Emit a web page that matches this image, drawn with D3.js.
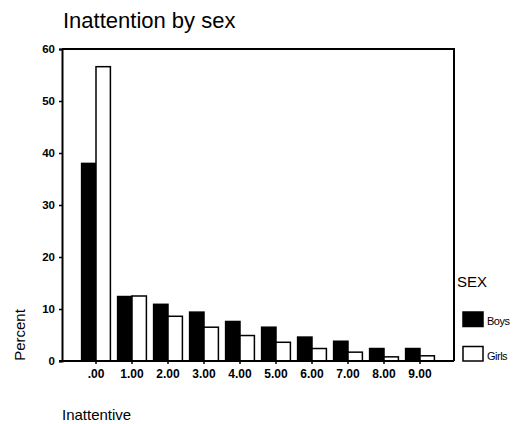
<!DOCTYPE html>
<html>
<head>
<meta charset="utf-8">
<script src="https://cdn.jsdelivr.net/npm/d3@7"></script>
<style>
  body { margin: 0; background: #fff; }
  text { font-family: "Liberation Sans", Arial, sans-serif; fill: #000; }
</style>
</head>
<body>
<script>
// data
var categories = [".00", "1.00", "2.00", "3.00", "4.00", "5.00", "6.00", "7.00", "8.00", "9.00"];
var boys = [38.0, 12.4, 10.9, 9.4, 7.6, 6.5, 4.6, 3.8, 2.4, 2.4];
var girls = [56.6, 12.5, 8.6, 6.5, 4.9, 3.6, 2.4, 1.7, 0.8, 1.0];
var seriesNames = ["Boys", "Girls"];
var yTicks = [0, 10, 20, 30, 40, 50, 60];

const width = 520;
const height = 424;
const plotLeft = 62, plotRight = 454, plotTop = 49, plotBottom = 361;

var svg = d3.select("body")
    .append("svg")
    .attr("width", width)
    .attr("height", height);

// scales
var x = d3.scaleBand()
    .domain(categories)
    .range([plotLeft + 16, plotRight - 16])
    .paddingInner(0.2)
    .paddingOuter(0.1);

var xSub = d3.scaleBand()
    .domain(seriesNames)
    .range([0, x.bandwidth()]);

var y = d3.scaleLinear()
    .domain([0, 60])
    .range([plotBottom, plotTop]);

var fills = { "Boys": "#000", "Girls": "#fff" };

// title
svg.append("text")
    .attr("x", 63)
    .attr("y", 28)
    .style("font-size", "22px")
    .text("Inattention by sex");

// bars
var rows = categories.map(function(c, i) {
    return { cat: c, values: [{ name: "Boys", v: boys[i] }, { name: "Girls", v: girls[i] }] };
});

var groups = svg.selectAll("g.cat")
    .data(rows)
    .enter()
    .append("g")
    .attr("class", "cat")
    .attr("transform", function(d) { return "translate(" + x(d.cat) + ",0)"; });

groups.selectAll("rect")
    .data(function(d) { return d.values; })
    .enter()
    .append("rect")
    .attr("x", function(d) { return xSub(d.name); })
    .attr("width", xSub.bandwidth())
    .attr("y", function(d) { return y(d.v); })
    .attr("height", function(d) { return y(0) - y(d.v); })
    .style("fill", function(d) { return fills[d.name]; })
    .style("stroke", "#000")
    .style("stroke-width", 1.5);

// y axis
var yAxis = svg.append("g")
    .attr("transform", "translate(" + plotLeft + ",0)")
    .call(d3.axisLeft(y).tickValues(yTicks).tickSize(3).tickPadding(4));
yAxis.select(".domain").attr("stroke-width", 2);
yAxis.selectAll("line").attr("stroke-width", 1.5);
yAxis.selectAll("text")
    .style("font-size", "11.5px")
    .style("font-weight", "bold");

// x axis
var xAxis = svg.append("g")
    .attr("transform", "translate(0," + plotBottom + ")")
    .call(d3.axisBottom(x).tickSize(3).tickPadding(5));
xAxis.select(".domain")
    .attr("d", "M" + (plotLeft - 3) + ",0H" + plotRight)
    .attr("stroke-width", 2);
xAxis.selectAll("line").attr("stroke-width", 1.5);
xAxis.selectAll("text")
    .style("font-size", "12px")
    .style("font-weight", "bold");

// frame: top and right
svg.append("path")
    .attr("d", "M" + plotLeft + "," + plotTop + "H" + plotRight + "V" + plotBottom)
    .style("fill", "none")
    .style("stroke", "#000")
    .style("stroke-width", 2);

// axis titles
svg.append("text")
    .attr("transform", "translate(25,335) rotate(-90)")
    .attr("text-anchor", "middle")
    .style("font-size", "15px")
    .text("Percent");

svg.append("text")
    .attr("x", 62)
    .attr("y", 420)
    .style("font-size", "15px")
    .text("Inattentive");

// legend
svg.append("text")
    .attr("x", 457)
    .attr("y", 287)
    .style("font-size", "15px")
    .text("SEX");

var legend = svg.selectAll("g.legend")
    .data(seriesNames)
    .enter()
    .append("g")
    .attr("class", "legend")
    .attr("transform", function(d, i) { return "translate(463," + (312 + i * 34.5) + ")"; });

legend.append("rect")
    .attr("width", 20)
    .attr("height", 14.5)
    .style("fill", function(d) { return fills[d]; })
    .style("stroke", "#000")
    .style("stroke-width", 1.5);

legend.append("text")
    .attr("x", 24)
    .attr("y", 13)
    .style("font-size", "11px")
    .style("letter-spacing", "-0.5px")
    .text(function(d) { return d; });
</script>
</body>
</html>
